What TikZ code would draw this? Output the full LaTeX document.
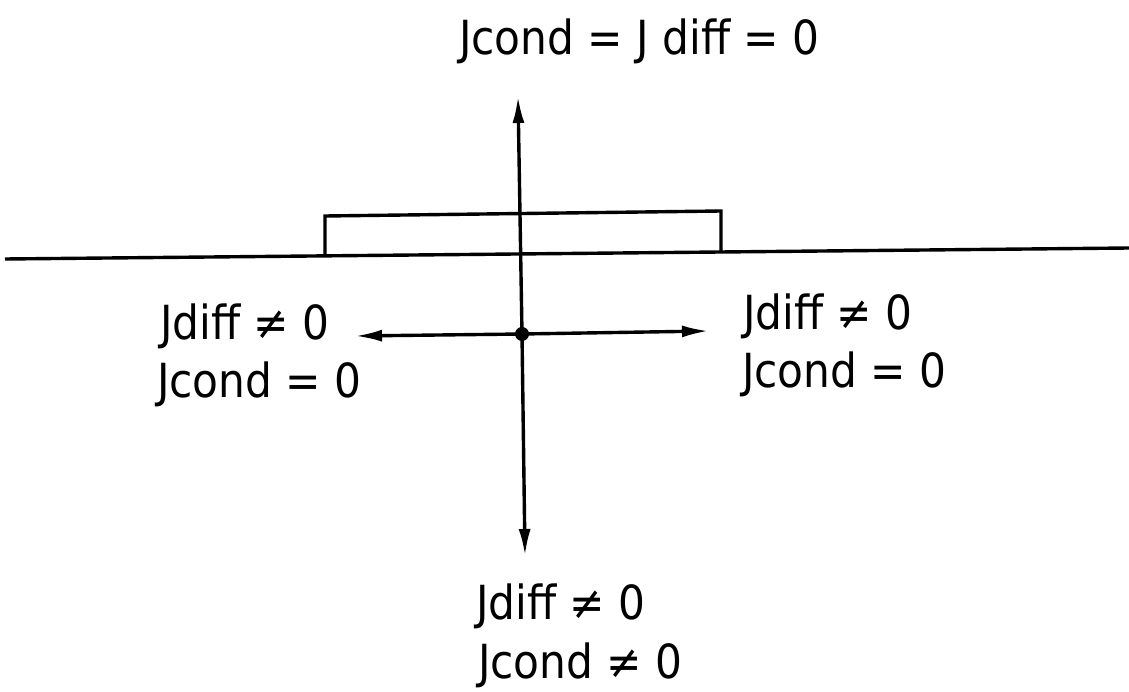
\documentclass[tikz,border=0pt]{standalone}
\usepackage{fontspec}
\setmainfont{DejaVu Sans Condensed}
\usetikzlibrary{arrows.meta}
\begin{document}
\begin{tikzpicture}[x=1pt,y=-1pt,
  lbl/.style={inner sep=0pt, font=\fontsize{47}{55}\selectfont},
  ln/.style={line width=3.4pt},
  arr/.style={ln, -{Latex[length=27pt,width=12pt]}}]
\useasboundingbox (0,0) rectangle (1129,692);
% ground line and plate
\coordinate (gl) at (5,259);
\coordinate (gr) at (1129,248);
\draw[ln] (gl) -- (gr);
\coordinate (p1) at (325,256);
\coordinate (p2) at (325,216);
\coordinate (p3) at (721,211);
\coordinate (p4) at (721,251);
\draw[ln] (p1) -- (p2) -- (p3) -- (p4);
% centre and arrows
\coordinate (c) at (522,334);
\coordinate (up) at (518,96);
\coordinate (dn) at (525,556);
\coordinate (lf) at (355,336);
\coordinate (rt) at (709,331);
\draw[arr] (c) -- (up);
\draw[arr] (c) -- (dn);
\draw[arr] (c) -- (lf);
\draw[arr] (c) -- (rt);
\fill (c) circle (7pt);
% labels
\node[lbl, anchor=base west] (t) at (459,55) {Jcond = J diff = 0};
\node[lbl, anchor=base west] (l1) at (160,339) {Jdiff ≠ 0};
\node[lbl, anchor=base west] (l2) at (157,397) {Jcond = 0};
\node[lbl, anchor=base west] (r1) at (743,330) {Jdiff ≠ 0};
\node[lbl, anchor=base west] (r2) at (742,387) {Jcond = 0};
\node[lbl, anchor=base west] (b1) at (476,619) {Jdiff ≠ 0};
\node[lbl, anchor=base west] (b2) at (478,678) {Jcond ≠ 0};
\end{tikzpicture}
\end{document}
